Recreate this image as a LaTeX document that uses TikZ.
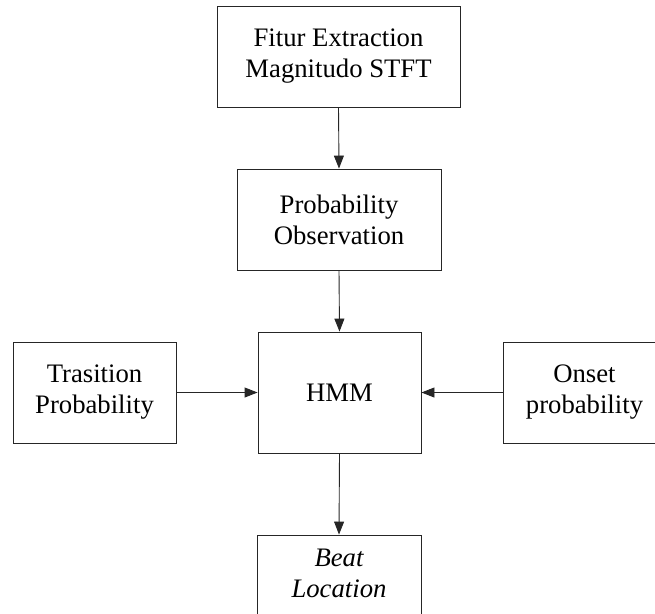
\documentclass[tikz,border=0pt]{standalone}
\usepackage{fontspec}
\setmainfont{Liberation Serif}
\usetikzlibrary{arrows.meta}
\begin{document}
\begin{tikzpicture}[x=1pt,y=-1pt,
  blk/.style={draw=black!85, line width=0.9pt, align=center, inner sep=0pt,
    font=\fontsize{26.7}{31}\selectfont},
  arr/.style={draw=black!85, line width=0.9pt, -{Triangle[length=13pt,width=10pt]}}]
\useasboundingbox (0,0) rectangle (655,613);
\clip (0,0) rectangle (655,613);
\node[blk, minimum width=243pt, minimum height=101pt] (fe) at (338.5,56.5) {Fitur Extraction\\Magnitudo STFT};
\node[blk, minimum width=204pt, minimum height=101pt] (po) at (339,219.5) {Probability\\Observation};
\node[blk, minimum width=163pt, minimum height=121pt] (hmm) at (339.5,392.5) {HMM};
\node[blk, minimum width=163pt, minimum height=101pt] (tp) at (94.5,392.5) {Trasition\\Probability};
\node[blk, minimum width=163pt, minimum height=101pt] (op) at (584.5,392.5) {Onset\\probability};
\node[blk, minimum width=164pt, minimum height=101pt, text depth=25pt] (bl) at (339,585.5) {\itshape Beat\\\itshape Location};
\draw[arr] (fe.south) -- (po.north);
\draw[arr] (po.south) -- (hmm.north);
\draw[arr] (tp.east) -- (hmm.west);
\draw[arr] (op.west) -- (hmm.east);
\draw[arr] (hmm.south) -- (bl.north);
\end{tikzpicture}
\end{document}
